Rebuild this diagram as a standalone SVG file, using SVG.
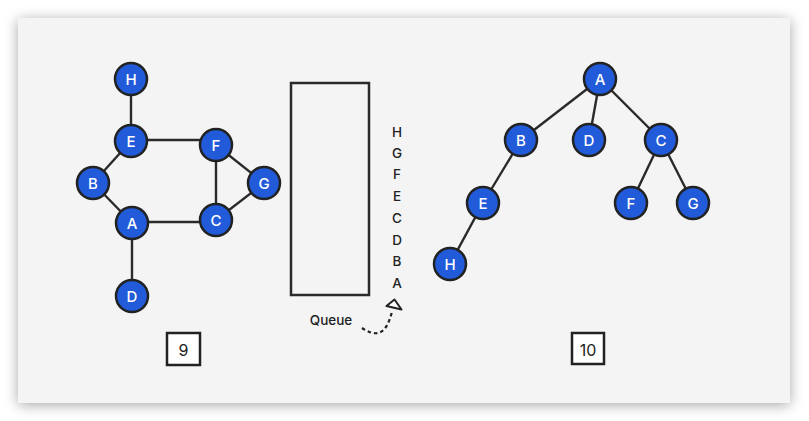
<svg xmlns="http://www.w3.org/2000/svg" width="809" height="421" viewBox="0 0 809 421">
<defs>
<filter id="sh" x="-10%" y="-10%" width="120%" height="125%">
<feGaussianBlur in="SourceAlpha" stdDeviation="7"/>
<feOffset dy="2"/>
<feComponentTransfer><feFuncA type="linear" slope="0.35"/></feComponentTransfer>
<feMerge><feMergeNode/><feMergeNode in="SourceGraphic"/></feMerge>
</filter>
</defs>
<style>
.n circle{fill:#215bd9;stroke:#222;stroke-width:2.5}
.n text{fill:#fff;font-family:Inter,"Noto Sans",sans-serif;font-size:15px;font-weight:500;text-anchor:middle;dominant-baseline:central}
.e line{stroke:#2a2a2a;stroke-width:2.4}
.t{fill:#222;font-family:Inter,"Noto Sans",sans-serif;font-size:13.5px;font-weight:500;text-anchor:middle;dominant-baseline:central}
.box{fill:#fff;stroke:#222;stroke-width:2.5}
</style>
<rect x="18" y="18" width="772" height="385" fill="#f4f4f4" filter="url(#sh)"/>
<g id="connectors" class="e">
<line x1="131" y1="79" x2="131" y2="141"/>
<line x1="131" y1="140" x2="216" y2="140"/>
<line x1="131" y1="141" x2="93" y2="183"/>
<line x1="93" y1="183" x2="132" y2="223"/>
<line x1="132" y1="222" x2="216" y2="222"/>
<line x1="132" y1="223" x2="132" y2="296"/>
<line x1="216" y1="145" x2="216" y2="220"/>
<line x1="216" y1="145" x2="264" y2="183"/>
<line x1="216" y1="220" x2="264" y2="183"/>
<line x1="600" y1="79" x2="521" y2="140"/>
<line x1="600" y1="79" x2="589" y2="140"/>
<line x1="600" y1="79" x2="661" y2="140"/>
<line x1="521" y1="140" x2="483" y2="203"/>
<line x1="483" y1="203" x2="450" y2="264"/>
<line x1="661" y1="140" x2="631" y2="203"/>
<line x1="661" y1="140" x2="693" y2="203"/>
<path d="M362,328 C368,332 374,334 378,333 C386,331 389,322 392,312" fill="none" stroke="#222" stroke-width="2.2" stroke-dasharray="3.5,3"/>
<polygon points="394.5,299.5 386.5,306 401.5,309.5" fill="#fff" stroke="#222" stroke-width="2" stroke-linejoin="round"/>
</g>
<g id="gH" class="n"><circle cx="131" cy="79" r="16"/><text x="131" y="79">H</text></g>
<g id="gE" class="n"><circle cx="131" cy="141" r="16"/><text x="131" y="141">E</text></g>
<g id="gF" class="n"><circle cx="216" cy="145" r="16"/><text x="216" y="145">F</text></g>
<g id="gB" class="n"><circle cx="93" cy="183" r="16"/><text x="93" y="183">B</text></g>
<g id="gG" class="n"><circle cx="264" cy="183" r="16"/><text x="264" y="183">G</text></g>
<g id="gA" class="n"><circle cx="132" cy="223" r="16"/><text x="132" y="223">A</text></g>
<g id="gC" class="n"><circle cx="216" cy="220" r="16"/><text x="216" y="220">C</text></g>
<g id="gD" class="n"><circle cx="132" cy="296" r="16"/><text x="132" y="296">D</text></g>
<g id="queue">
<rect x="291" y="83" width="78" height="212" fill="none" stroke="#2a2a2a" stroke-width="2.5"/>
<text class="t" x="397" y="132">H</text>
<text class="t" x="397" y="153">G</text>
<text class="t" x="397" y="174">F</text>
<text class="t" x="397" y="196">E</text>
<text class="t" x="397" y="218">C</text>
<text class="t" x="397" y="240">D</text>
<text class="t" x="397" y="261">B</text>
<text class="t" x="397" y="283">A</text>
<text class="t" x="331" y="320">Queue</text>
</g>
<g id="tA" class="n"><circle cx="600" cy="79" r="16"/><text x="600" y="79">A</text></g>
<g id="tB" class="n"><circle cx="521" cy="140" r="16"/><text x="521" y="140">B</text></g>
<g id="tD" class="n"><circle cx="589" cy="140" r="16"/><text x="589" y="140">D</text></g>
<g id="tC" class="n"><circle cx="661" cy="140" r="16"/><text x="661" y="140">C</text></g>
<g id="tE" class="n"><circle cx="483" cy="203" r="16"/><text x="483" y="203">E</text></g>
<g id="tF" class="n"><circle cx="631" cy="203" r="16"/><text x="631" y="203">F</text></g>
<g id="tG" class="n"><circle cx="693" cy="203" r="16"/><text x="693" y="203">G</text></g>
<g id="tH" class="n"><circle cx="450" cy="264" r="16"/><text x="450" y="264">H</text></g>
<g id="label9"><rect class="box" x="167" y="333" width="33" height="32"/><text class="t" x="183.5" y="350" style="font-size:16px;font-weight:400">9</text></g>
<g id="label10"><rect class="box" x="572" y="333" width="32" height="31"/><text class="t" x="588" y="349.5" style="font-size:16px;font-weight:400">10</text></g>
</svg>
